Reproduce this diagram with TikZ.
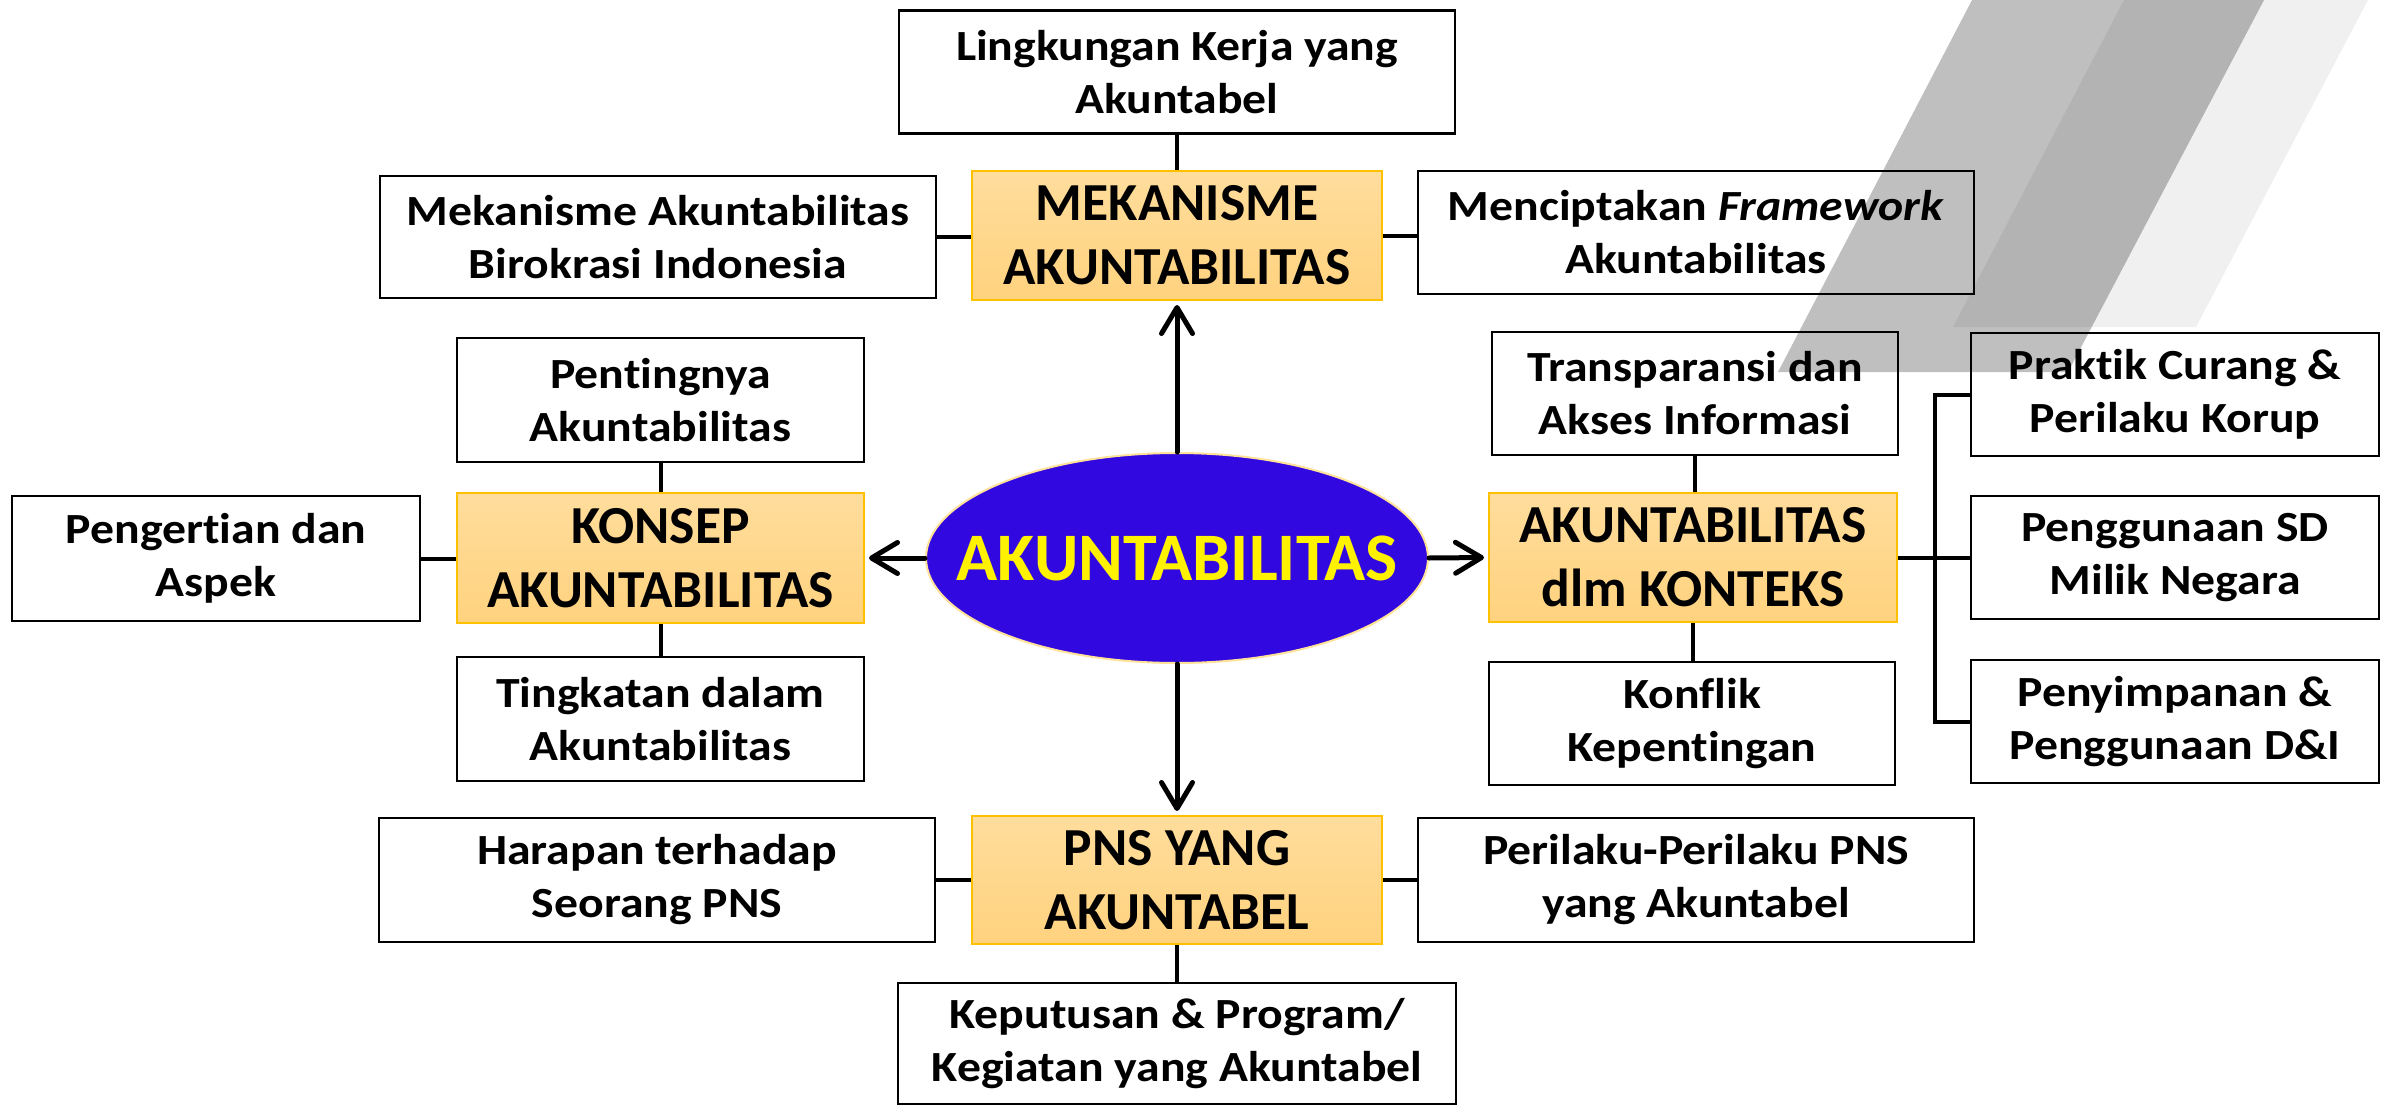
\documentclass[tikz,border=0pt]{standalone}
\usepackage{fontspec}
\setmainfont{Carlito}[Ligatures=NoCommon]
\newfontfamily\stretchfont{Carlito}[FakeStretch=1.11,Ligatures=NoCommon]
\usetikzlibrary{arrows.meta,shapes.geometric}
\definecolor{obgtop}{HTML}{FFDD9C}
\definecolor{obgbot}{HTML}{FFD27E}
\definecolor{oborder}{HTML}{FFC000}
\definecolor{ellfill}{RGB}{50,8,224}
\definecolor{ellborder}{HTML}{FFE29A}
\definecolor{stripegray}{HTML}{BFBFBF}
\begin{document}
\begin{tikzpicture}[x=1pt,y=1pt,
  sbox/.style={draw=black, line width=2.2pt, align=center, inner sep=0pt,
    font=\stretchfont\fontsize{43}{53}\selectfont\bfseries},
  obox/.style={draw=oborder, line width=2pt, top color=obgtop, bottom color=obgbot,
    align=center, inner sep=0pt, minimum width=410pt, minimum height=129pt,
    font=\fontsize{53.5}{64}\selectfont\bfseries},
  wide/.style={minimum width=556pt, minimum height=123pt},
  narrow/.style={minimum width=407pt, minimum height=124pt},
  conn/.style={line width=4pt},
  arr/.style={line width=5pt, line cap=round, line join=round,
    -{Straight Barb[length=26pt,width=31pt,line width=5pt,line cap=round,line join=round]}, shorten >=4pt},
]
\useasboundingbox (0,0) rectangle (2387,-1105);
% background stripes
\fill[stripegray] (1972,0) -- (2264,0) -- (2068,-372) -- (1778,-372) -- cycle;
\fill[black, opacity=0.06] (2124,0) -- (2368,0) -- (2196,-327) -- (1953,-327) -- cycle;

% top column
\node[sbox, wide] (lingk) at (1177,-72) {Lingkungan Kerja yang\\Akuntabel};
\node[obox] (mek) at (1177,-235.5) {MEKANISME\\AKUNTABILITAS};
\node[sbox, wide, minimum height=122pt] (mekbir) at (658,-237) {Mekanisme Akuntabilitas\\Birokrasi Indonesia};
\node[sbox, wide] (menc) at (1696,-232.5) {Menciptakan \textit{Framework}\\Akuntabilitas};

% left column
\node[sbox, narrow] (pent) at (660.5,-400) {Pentingnya\\Akuntabilitas};
\node[obox, minimum width=407pt, minimum height=130pt] (konsep) at (660.5,-558) {KONSEP\\AKUNTABILITAS};
\node[sbox, minimum width=408pt, minimum height=125pt] (peng) at (216,-558.5) {Pengertian dan\\Aspek};
\node[sbox, narrow] (ting) at (660.5,-719) {Tingkatan dalam\\Akuntabilitas};

% centre
\node[ellipse, draw=ellborder, fill=ellfill, line width=2pt, minimum width=502pt,
  minimum height=210pt, inner xsep=-60pt, inner ysep=0pt, text=yellow,
  font=\fontsize{68}{72}\selectfont\bfseries] (ell) at (1177,-558) {AKUNTABILITAS};

% right column
\node[sbox, minimum width=406pt, minimum height=123pt] (trans) at (1695,-393.5) {Transparansi dan\\Akses Informasi};
\node[obox, minimum width=408pt] (konteks) at (1693,-557.5) {AKUNTABILITAS\\dlm KONTEKS};
\node[sbox, minimum width=406pt, minimum height=123pt] (konflik) at (1692,-723.5) {Konflik\\Kepentingan};

% far right
\node[sbox, minimum width=408pt, minimum height=123pt] (praktik) at (2175,-394.5) {Praktik Curang \&\\Perilaku Korup};
\node[sbox, minimum width=408pt, minimum height=123pt] (pengg) at (2175,-557.5) {Penggunaan SD\\Milik Negara};
\node[sbox, minimum width=408pt, minimum height=123pt] (penyimp) at (2175,-721.5) {Penyimpanan \&\\Penggunaan D\&I};
\coordinate (br) at (1935,-557.5);

% bottom
\node[obox, minimum height=128pt] (pns) at (1177,-880) {PNS YANG\\AKUNTABEL};
\node[sbox, wide, minimum height=124pt] (harapan) at (657,-880) {Harapan terhadap\\Seorang PNS};
\node[sbox, wide, minimum height=124pt] (perilaku) at (1696,-880) {Perilaku-Perilaku PNS\\yang Akuntabel};
\node[sbox, minimum width=558pt, minimum height=121pt] (keput) at (1177,-1043.5) {Keputusan \& Program/\\Kegiatan yang Akuntabel};

% connectors
\draw[conn] (lingk.south) -- (mek.north);
\draw[conn] (mekbir.east) -- (mekbir.east -| mek.west);
\draw[conn] (mek.east) -- (mek.east -| menc.west);
\draw[conn] (pent.south) -- (konsep.north);
\draw[conn] (konsep.south) -- (ting.north);
\draw[conn] (peng.east) -- (peng.east -| konsep.west);
\draw[conn] (trans.south) -- (trans.south |- konteks.north);
\draw[conn] (konteks.south) -- (konteks.south |- konflik.north);
\draw[conn] (konteks.east) -- (br);
\draw[conn, line join=miter] (praktik.west) -| (br) |- (penyimp.west);
\draw[conn] (br) -- (pengg.west);
\draw[conn] (harapan.east) -- (harapan.east -| pns.west);
\draw[conn] (pns.east) -- (pns.east -| perilaku.west);
\draw[conn] (pns.south) -- (keput.north);

% arrows
\draw[arr] (ell.north) -- (mek.south);
\draw[arr] (ell.south) -- (pns.north);
\draw[arr] (ell.west) -- (konsep.east);
\draw[arr] (ell.east) -- (konteks.west);
\end{tikzpicture}
\end{document}
